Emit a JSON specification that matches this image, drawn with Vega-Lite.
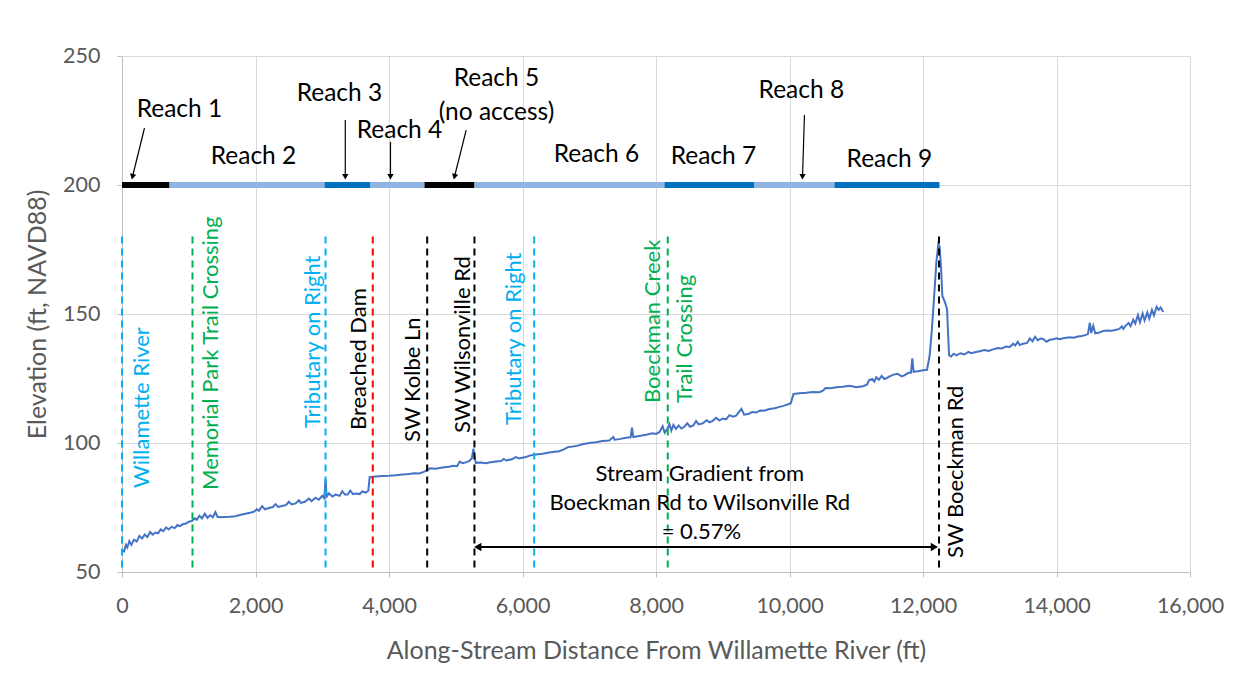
{
  "$schema": "https://vega.github.io/schema/vega-lite/v6.json",
  "autosize": {"type": "none"},
  "width": 1068,
  "height": 516,
  "padding": {"left": 122, "top": 56, "right": 53, "bottom": 105},
  "background": "white",
  "config": {
    "view": {"stroke": null},
    "font": "Lato",
    "axis": {
      "labelFont": "Lato", "labelFontSize": 21.5, "labelColor": "#595959",
      "titleFont": "Lato", "titleFontSize": 25, "titleColor": "#595959", "titleFontWeight": "normal",
      "gridColor": "#D9D9D9", "gridWidth": 1, "domainColor": "#BFBFBF", "tickColor": "#BFBFBF", "tickSize": 5
    }
  },
  "datasets": {
    "profile": [
      {"d":0,"e":58.5},{"d":30,"e":58},{"d":60,"e":60.5},{"d":80,"e":59.5},{"d":110,"e":62},{"d":140,"e":60.5},{"d":180,"e":62.5},{"d":220,"e":61.8},{"d":260,"e":64},{"d":300,"e":63},{"d":340,"e":64.5},{"d":380,"e":63.5},{"d":420,"e":65.5},{"d":460,"e":64.5},{"d":500,"e":65.3},{"d":540,"e":65},{"d":580,"e":66.5},{"d":620,"e":65.8},{"d":660,"e":67.3},{"d":700,"e":66.5},{"d":740,"e":67.5},{"d":790,"e":67},{"d":830,"e":68.2},{"d":870,"e":67.8},{"d":910,"e":68.5},{"d":960,"e":68.8},{"d":1000,"e":69.5},{"d":1050,"e":69.8},{"d":1090,"e":70.8},{"d":1120,"e":70.2},{"d":1160,"e":71.8},{"d":1200,"e":70.8},{"d":1240,"e":72.6},{"d":1280,"e":71},{"d":1320,"e":72},{"d":1360,"e":71.2},{"d":1400,"e":73.2},{"d":1430,"e":71.4},{"d":1480,"e":71.2},{"d":1550,"e":71.3},{"d":1620,"e":71.4},{"d":1700,"e":71.6},{"d":1780,"e":72.2},{"d":1850,"e":72.6},{"d":1920,"e":73},{"d":1980,"e":73.4},{"d":2020,"e":74.3},{"d":2050,"e":73.7},{"d":2100,"e":75.5},{"d":2140,"e":74.3},{"d":2200,"e":74.8},{"d":2260,"e":75.2},{"d":2300,"e":76.3},{"d":2340,"e":75.2},{"d":2400,"e":75.6},{"d":2460,"e":76},{"d":2500,"e":77.2},{"d":2540,"e":76.2},{"d":2600,"e":76.6},{"d":2650,"e":77.8},{"d":2680,"e":76.8},{"d":2740,"e":77.2},{"d":2800,"e":78.5},{"d":2840,"e":77.5},{"d":2900,"e":78.8},{"d":2950,"e":78},{"d":3000,"e":79.5},{"d":3030,"e":78.6},{"d":3050,"e":86},{"d":3065,"e":79.2},{"d":3100,"e":80.5},{"d":3150,"e":79.3},{"d":3200,"e":80},{"d":3260,"e":79.5},{"d":3300,"e":81.3},{"d":3340,"e":80},{"d":3380,"e":80},{"d":3420,"e":81.5},{"d":3460,"e":80.2},{"d":3500,"e":80.4},{"d":3560,"e":80.2},{"d":3600,"e":81.2},{"d":3650,"e":80.8},{"d":3690,"e":81.5},{"d":3710,"e":86.8},{"d":3800,"e":87},{"d":3900,"e":87.2},{"d":4000,"e":87.3},{"d":4100,"e":87.5},{"d":4200,"e":87.8},{"d":4300,"e":88},{"d":4380,"e":88.3},{"d":4450,"e":88.2},{"d":4520,"e":88.8},{"d":4570,"e":89.5},{"d":4620,"e":90.2},{"d":4700,"e":90},{"d":4800,"e":90.5},{"d":4900,"e":90.8},{"d":4960,"e":91.2},{"d":5020,"e":91},{"d":5060,"e":92.8},{"d":5100,"e":92.2},{"d":5150,"e":92.5},{"d":5200,"e":93},{"d":5240,"e":94},{"d":5265,"e":97.8},{"d":5280,"e":95},{"d":5300,"e":92.3},{"d":5380,"e":92.4},{"d":5450,"e":92.2},{"d":5520,"e":92.5},{"d":5600,"e":92.8},{"d":5680,"e":93},{"d":5720,"e":93.8},{"d":5760,"e":93.2},{"d":5850,"e":93.8},{"d":5900,"e":94.5},{"d":5950,"e":94},{"d":6050,"e":94.6},{"d":6120,"e":95.2},{"d":6200,"e":95.5},{"d":6300,"e":95.8},{"d":6400,"e":96.3},{"d":6480,"e":96.6},{"d":6550,"e":96.8},{"d":6620,"e":97.5},{"d":6680,"e":98.4},{"d":6720,"e":98.5},{"d":6800,"e":98.8},{"d":6900,"e":99.5},{"d":7000,"e":100},{"d":7100,"e":100.3},{"d":7200,"e":100.8},{"d":7300,"e":101},{"d":7360,"e":102.3},{"d":7380,"e":101.3},{"d":7450,"e":101.5},{"d":7550,"e":102},{"d":7620,"e":102.2},{"d":7640,"e":106},{"d":7660,"e":102.3},{"d":7750,"e":102.7},{"d":7850,"e":103.2},{"d":7950,"e":103.8},{"d":8000,"e":103.5},{"d":8050,"e":104.2},{"d":8100,"e":106.5},{"d":8130,"e":104},{"d":8170,"e":105.5},{"d":8200,"e":107.3},{"d":8230,"e":104.8},{"d":8260,"e":107},{"d":8300,"e":105.5},{"d":8340,"e":106.8},{"d":8380,"e":105.6},{"d":8420,"e":106.2},{"d":8470,"e":107.6},{"d":8510,"e":106.3},{"d":8560,"e":106.8},{"d":8600,"e":108.5},{"d":8640,"e":107.2},{"d":8700,"e":107.6},{"d":8760,"e":108.8},{"d":8800,"e":108},{"d":8850,"e":108.6},{"d":8900,"e":109.8},{"d":8950,"e":108.7},{"d":9000,"e":109.5},{"d":9050,"e":109.2},{"d":9100,"e":110.8},{"d":9150,"e":110.2},{"d":9200,"e":110.6},{"d":9280,"e":113.2},{"d":9320,"e":111},{"d":9380,"e":111.2},{"d":9440,"e":112},{"d":9500,"e":111.8},{"d":9560,"e":112.6},{"d":9620,"e":112.5},{"d":9700,"e":113.2},{"d":9780,"e":113.5},{"d":9850,"e":114},{"d":9920,"e":114.5},{"d":9980,"e":115},{"d":10020,"e":115.4},{"d":10060,"e":119},{"d":10150,"e":119.3},{"d":10250,"e":119.5},{"d":10350,"e":119.8},{"d":10450,"e":119.7},{"d":10500,"e":120.3},{"d":10540,"e":121.3},{"d":10620,"e":121.2},{"d":10700,"e":121.6},{"d":10800,"e":121.8},{"d":10900,"e":122.2},{"d":11000,"e":121.6},{"d":11100,"e":122},{"d":11160,"e":122.6},{"d":11190,"e":124.3},{"d":11240,"e":124.8},{"d":11270,"e":123.8},{"d":11300,"e":125.5},{"d":11340,"e":124.5},{"d":11380,"e":126},{"d":11420,"e":124.8},{"d":11460,"e":125.2},{"d":11500,"e":125.8},{"d":11560,"e":126.5},{"d":11620,"e":126.8},{"d":11680,"e":125.8},{"d":11720,"e":126.2},{"d":11780,"e":127.2},{"d":11820,"e":127.2},{"d":11840,"e":132.8},{"d":11860,"e":127.6},{"d":11920,"e":127.8},{"d":12000,"e":128.2},{"d":12060,"e":128.4},{"d":12100,"e":134},{"d":12130,"e":143},{"d":12170,"e":158},{"d":12200,"e":170},{"d":12230,"e":177.2},{"d":12250,"e":176},{"d":12270,"e":168},{"d":12290,"e":157},{"d":12330,"e":154.5},{"d":12360,"e":152},{"d":12390,"e":134},{"d":12420,"e":133.5},{"d":12460,"e":134.6},{"d":12500,"e":134},{"d":12560,"e":134.8},{"d":12620,"e":134.3},{"d":12680,"e":135.3},{"d":12720,"e":134.8},{"d":12780,"e":135.2},{"d":12850,"e":135.6},{"d":12920,"e":136},{"d":12980,"e":135.7},{"d":13050,"e":136.3},{"d":13120,"e":136.8},{"d":13180,"e":136.6},{"d":13240,"e":137.4},{"d":13300,"e":137.2},{"d":13350,"e":138.5},{"d":13380,"e":137.8},{"d":13420,"e":139.2},{"d":13450,"e":138},{"d":13500,"e":138.5},{"d":13560,"e":138.8},{"d":13600,"e":140.5},{"d":13640,"e":139.4},{"d":13680,"e":141.2},{"d":13720,"e":139.8},{"d":13760,"e":140.5},{"d":13800,"e":140.3},{"d":13850,"e":139.2},{"d":13900,"e":140},{"d":13950,"e":140.2},{"d":14000,"e":140.6},{"d":14050,"e":140.2},{"d":14100,"e":140.6},{"d":14150,"e":140.8},{"d":14200,"e":141},{"d":14260,"e":140.8},{"d":14320,"e":141.3},{"d":14380,"e":141.5},{"d":14430,"e":141.8},{"d":14470,"e":142.2},{"d":14500,"e":146.6},{"d":14520,"e":142.6},{"d":14550,"e":145.4},{"d":14580,"e":142.5},{"d":14630,"e":142.7},{"d":14700,"e":143.4},{"d":14760,"e":143.6},{"d":14820,"e":143.5},{"d":14880,"e":143.8},{"d":14940,"e":144.2},{"d":14980,"e":145.2},{"d":15000,"e":144.2},{"d":15040,"e":145.6},{"d":15080,"e":146.5},{"d":15110,"e":145.3},{"d":15150,"e":147.8},{"d":15180,"e":146.3},{"d":15220,"e":149.5},{"d":15250,"e":146.8},{"d":15290,"e":150.2},{"d":15320,"e":147.5},{"d":15360,"e":150.6},{"d":15390,"e":148.2},{"d":15430,"e":151.6},{"d":15460,"e":149.5},{"d":15500,"e":152.8},{"d":15530,"e":151.6},{"d":15560,"e":152.5},{"d":15600,"e":150.8}
    ],
    "reaches": [
      {"reach":"Reach 1","start":0,"end":712,"elev":200},
      {"reach":"Reach 2","start":712,"end":3034,"elev":200},
      {"reach":"Reach 3","start":3034,"end":3723,"elev":200},
      {"reach":"Reach 4","start":3723,"end":4532,"elev":200},
      {"reach":"Reach 5","start":4532,"end":5281,"elev":200},
      {"reach":"Reach 6","start":5281,"end":8127,"elev":200},
      {"reach":"Reach 7","start":8127,"end":9475,"elev":200},
      {"reach":"Reach 8","start":9475,"end":10673,"elev":200},
      {"reach":"Reach 9","start":10673,"end":12247,"elev":200}
    ],
    "reachLabels": [
      {"label":"Reach 1","x":861,"y":229.1},
      {"label":"Reach 2","x":1970,"y":210.9},
      {"label":"Reach 3","x":3258,"y":235.3},
      {"label":"Reach 4","x":4157,"y":220.9},
      {"label":"Reach 5","x":5610,"y":241.1},
      {"label":"(no access)","x":5610,"y":227.9},
      {"label":"Reach 6","x":7108,"y":211.6},
      {"label":"Reach 7","x":8860,"y":210.9},
      {"label":"Reach 8","x":10178,"y":236.4},
      {"label":"Reach 9","x":11496,"y":209.7}
    ],
    "pointers": [
      {"reach":"Reach 1","x":337,"y":222.1,"x2":157,"y2":203.2,"tilt":"slanted"},
      {"reach":"Reach 3","x":3345,"y":225.2,"x2":3345,"y2":203.2,"tilt":"straight"},
      {"reach":"Reach 4","x":4022,"y":216.7,"x2":4022,"y2":203.2,"tilt":"straight"},
      {"reach":"Reach 5","x":5156,"y":221.3,"x2":4981,"y2":203.2,"tilt":"slanted"},
      {"reach":"Reach 8","x":10224,"y":227.1,"x2":10195,"y2":203.2,"tilt":"straight"}
    ],
    "markers": [
      {"name":"Willamette River","x":0,"kind":"river","lx":303,"ly":82.6},
      {"name":"Memorial Park Trail Crossing","x":1056,"kind":"trail","lx":1336,"ly":81.8},
      {"name":"Tributary on Right","x":3049,"kind":"river","lx":2858,"ly":105.8},
      {"name":"Breached Dam","x":3757,"kind":"dam","lx":3558,"ly":105},
      {"name":"SW Kolbe Ln","x":4572,"kind":"road","lx":4356,"ly":100.4},
      {"name":"SW Wilsonville Rd","x":5280,"kind":"road","lx":5105,"ly":103.9},
      {"name":"Tributary on Right","x":6175,"kind":"river","lx":5880,"ly":107},
      {"name":"Boeckman Creek\nTrail Crossing","x":8176,"kind":"trail","lx":7950,"ly":115.5},
      {"name":"SW Boeckman Rd","x":12240,"kind":"road","lx":12496,"ly":55.4}
    ],
    "gradientText": [
      {"line":"Stream Gradient from","x":8655,"y":88.0},
      {"line":"Boeckman Rd to Wilsonville Rd","x":8655,"y":76.7},
      {"line":"= 0.57%","x":8680,"y":65.5}
    ],
    "gradientSpan": [
      {"from":5330,"to":12170,"elev":59.7}
    ]
  },
  "encoding": {
    "x": {"type": "quantitative", "scale": {"domain": [0, 16000], "nice": false},
      "axis": {"values": [0,2000,4000,6000,8000,10000,12000,14000,16000], "format": ",d", "title": "Along-Stream Distance From Willamette River (ft)", "labelPadding": 18, "titlePadding": 22, "labelFlush": false}},
    "y": {"type": "quantitative", "scale": {"domain": [50, 250], "nice": false},
      "axis": {"values": [50,100,150,200,250], "title": "Elevation (ft, NAVD88)", "labelPadding": 17, "titlePadding": 12}}
  },
  "layer": [
    {
      "data": {"name": "profile"},
      "mark": {"type": "line", "color": "#4472C4", "strokeWidth": 2},
      "encoding": {"x": {"field": "d"}, "y": {"field": "e"}}
    },
    {
      "data": {"name": "markers"},
      "mark": {"type": "rule", "strokeWidth": 2, "strokeDash": [7, 5]},
      "encoding": {
        "x": {"field": "x"},
        "y": {"datum": 180},
        "y2": {"datum": 50},
        "color": {"field": "kind", "type": "nominal", "legend": null,
          "scale": {"domain": ["river","trail","dam","road"], "range": ["#00B0F0","#00B050","#FF0000","#000000"]}}
      }
    },
    {
      "data": {"name": "reaches"},
      "mark": {"type": "rule", "strokeWidth": 6},
      "encoding": {
        "x": {"field": "start"},
        "x2": {"field": "end"},
        "y": {"field": "elev"},
        "color": {"field": "reach", "type": "nominal", "legend": null,
          "scale": {"domain": ["Reach 1","Reach 2","Reach 3","Reach 4","Reach 5","Reach 6","Reach 7","Reach 8","Reach 9"],
            "range": ["#000000","#8EB4E3","#0070C0","#8EB4E3","#000000","#8EB4E3","#0070C0","#8EB4E3","#0070C0"]}}
      }
    },
    {
      "data": {"name": "reachLabels"},
      "mark": {"type": "text", "font": "Lato", "fontSize": 24.5, "color": "#000000", "align": "center", "baseline": "middle"},
      "encoding": {"x": {"field": "x"}, "y": {"field": "y"}, "text": {"field": "label"}}
    },
    {
      "data": {"name": "pointers"},
      "mark": {"type": "rule", "strokeWidth": 1.2, "color": "#000000"},
      "encoding": {"x": {"field": "x"}, "y": {"field": "y"}, "x2": {"field": "x2"}, "y2": {"field": "y2"}}
    },
    {
      "data": {"name": "pointers"},
      "transform": [{"filter": "datum.tilt == 'straight'"}],
      "mark": {"type": "point", "shape": "triangle-down", "filled": true, "size": 40, "color": "#000000", "opacity": 1},
      "encoding": {"x": {"field": "x2"}, "y": {"field": "y2"}}
    },
    {
      "data": {"name": "pointers"},
      "transform": [{"filter": "datum.tilt == 'slanted'"}],
      "mark": {"type": "point", "shape": "triangle-down", "filled": true, "size": 40, "angle": 14, "color": "#000000", "opacity": 1},
      "encoding": {"x": {"field": "x2"}, "y": {"field": "y2"}}
    },
    {
      "data": {"name": "markers"},
      "mark": {"type": "text", "font": "Lato", "fontSize": 22, "angle": 270, "align": "left", "baseline": "middle", "lineBreak": "\n", "lineHeight": 32},
      "encoding": {
        "x": {"field": "lx"},
        "y": {"field": "ly"},
        "text": {"field": "name"},
        "color": {"field": "kind", "type": "nominal", "legend": null,
          "scale": {"domain": ["river","trail","dam","road"], "range": ["#00B0F0","#00B050","#000000","#000000"]}}
      }
    },
    {
      "data": {"name": "gradientText"},
      "mark": {"type": "text", "font": "Lato", "fontSize": 22, "color": "#000000", "align": "center", "baseline": "middle"},
      "encoding": {"x": {"field": "x"}, "y": {"field": "y"}, "text": {"field": "line"}}
    },
    {
      "data": {"name": "gradientSpan"},
      "mark": {"type": "rule", "strokeWidth": 2, "color": "#000000"},
      "encoding": {"x": {"field": "from"}, "x2": {"field": "to"}, "y": {"field": "elev"}}
    },
    {
      "data": {"name": "gradientSpan"},
      "mark": {"type": "point", "shape": "triangle-left", "filled": true, "size": 70, "color": "#000000", "opacity": 1},
      "encoding": {"x": {"field": "from"}, "y": {"field": "elev"}}
    },
    {
      "data": {"name": "gradientSpan"},
      "mark": {"type": "point", "shape": "triangle-right", "filled": true, "size": 70, "color": "#000000", "opacity": 1},
      "encoding": {"x": {"field": "to"}, "y": {"field": "elev"}}
    }
  ],
  "resolve": {"scale": {"color": "independent"}}
}
